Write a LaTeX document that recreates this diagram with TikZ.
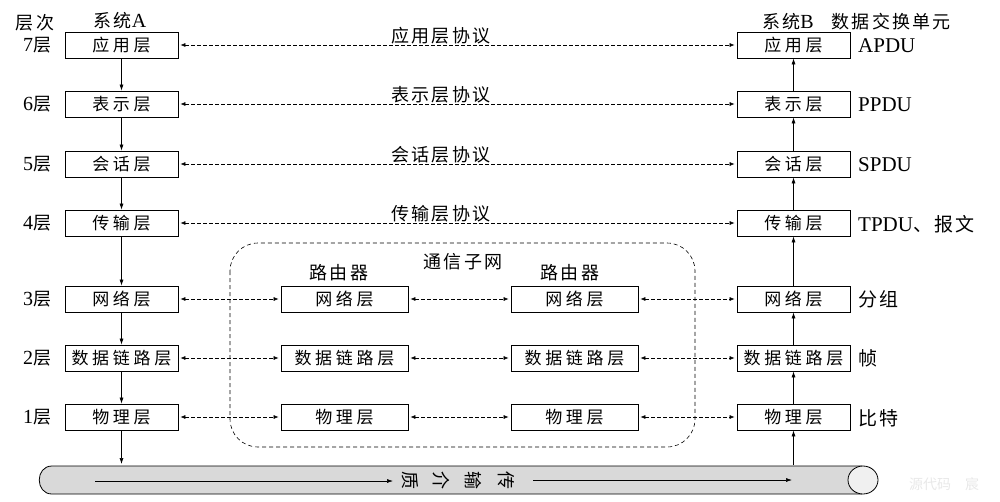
\documentclass[tikz,border=0pt]{standalone}
\usepackage{fontspec}
\setmainfont{Liberation Serif}
\newfontfamily\cjk{Noto Sans CJK SC}
\newfontfamily\cjkbox[LetterSpace=22]{Noto Sans CJK SC}
\newfontfamily\cjklbl[LetterSpace=12]{Noto Sans CJK SC}
\usetikzlibrary{arrows.meta}
\begin{document}
\begin{tikzpicture}[x=1pt,y=-1pt,
  layer/.style={draw, line width=0.8pt, minimum width=113pt, minimum height=26pt, inner sep=0pt, font=\cjkbox\fontsize{17}{17}\selectfont},
  rlayer/.style={layer, minimum width=127pt},
  proto/.style={dashed, dash pattern=on 3.5pt off 2.5pt, line width=0.6pt, {Latex[length=5pt,width=4pt]}-{Latex[length=5pt,width=4pt]}, shorten <=2pt, shorten >=2pt},
  solidarr/.style={line width=0.6pt, -{Latex[length=6pt,width=4pt]}},
  lbl/.style={font=\cjklbl\fontsize{18}{18}\selectfont, inner sep=0pt},
  pdu/.style={font=\fontsize{21}{21}\selectfont, anchor=west, inner sep=0pt}
]
\useasboundingbox (0,0) rectangle (1000,501);

% subnet
\draw[dashed, dash pattern=on 4pt off 3pt, line width=0.6pt, rounded corners=28pt] (230,243) rectangle (695,447);
\node[lbl] (subnet) at (463,262) {通信子网};
\node[lbl] (r1lab) at (339,273) {路由器};
\node[lbl] (r2lab) at (570,273) {路由器};

% pipe
\draw[fill=gray!30, line width=0.8pt] (862,466) -- (52,466) .. controls (35,466) and (35,494) .. (52,494) -- (862,494);
\draw[fill=gray!12, line width=0.8pt] (863,480) ellipse [x radius=15pt, y radius=14pt];
\coordinate (p1a) at (95,481);
\coordinate (p1b) at (393,481);
\coordinate (p2a) at (533,480);
\coordinate (p2b) at (792,480);
\draw[solidarr] (p1a) -- (p1b);
\draw[solidarr] (p2a) -- (p2b);
\foreach \ch/\xx in {传/506,输/473,介/441,质/410}
  \node[lbl, rotate=-90] (m\xx) at (\xx,480) {\ch};

% left column
\node[layer] (A7) at (121.5,45) {应用层};
\node[layer] (A6) at (121.5,104) {表示层};
\node[layer] (A5) at (121.5,164) {会话层};
\node[layer] (A4) at (121.5,223) {传输层};
\node[layer] (A3) at (121.5,299) {网络层};
\node[layer] (A2) at (121.5,358) {数据链路层};
\node[layer] (A1) at (121.5,417) {物理层};

% right column
\node[layer] (B7) at (793.5,45) {应用层};
\node[layer] (B6) at (793.5,104) {表示层};
\node[layer] (B5) at (793.5,164) {会话层};
\node[layer] (B4) at (793.5,223) {传输层};
\node[layer] (B3) at (793.5,299) {网络层};
\node[layer] (B2) at (793.5,358) {数据链路层};
\node[layer] (B1) at (793.5,417) {物理层};

% routers
\node[rlayer] (R3) at (344.5,299) {网络层};
\node[rlayer] (R2) at (344.5,358) {数据链路层};
\node[rlayer] (R1) at (344.5,417) {物理层};
\node[rlayer] (S3) at (574.5,299) {网络层};
\node[rlayer] (S2) at (574.5,358) {数据链路层};
\node[rlayer] (S1) at (574.5,417) {物理层};

% vertical arrows
\draw[solidarr] (A7) -- (A6);
\draw[solidarr] (A6) -- (A5);
\draw[solidarr] (A5) -- (A4);
\draw[solidarr] (A4) -- (A3);
\draw[solidarr] (A3) -- (A2);
\draw[solidarr] (A2) -- (A1);
\coordinate (pin) at (121.5,464);
\draw[solidarr] (A1) -- (pin);
\coordinate (pout) at (793.5,465);
\draw[solidarr] (pout) -- (B1);
\draw[solidarr] (B1) -- (B2);
\draw[solidarr] (B2) -- (B3);
\draw[solidarr] (B3) -- (B4);
\draw[solidarr] (B4) -- (B5);
\draw[solidarr] (B5) -- (B6);
\draw[solidarr] (B6) -- (B7);

% protocol arrows
\draw[proto] (A7) -- (B7);
\draw[proto] (A6) -- (B6);
\draw[proto] (A5) -- (B5);
\draw[proto] (A4) -- (B4);
\node[lbl, anchor=south] (p7) at (441,44) {应用层协议};
\node[lbl, anchor=south] (p6) at (441,103) {表示层协议};
\node[lbl, anchor=south] (p5) at (441,163) {会话层协议};
\node[lbl, anchor=south] (p4) at (441,222) {传输层协议};

\foreach \n in {3,2,1}{
  \draw[proto] (A\n) -- (R\n);
  \draw[proto] (R\n) -- (S\n);
  \draw[proto] (S\n) -- (B\n);
}

% level labels
\node[lbl] (lc) at (35,23) {层次};
\foreach \n/\yy in {7/45,6/104,5/164,4/223,3/299,2/358,1/417}
  \node[lbl] (L\n) at (37,\yy) {{\rmfamily\fontsize{20}{20}\selectfont \n}层};
\node[lbl] (sa) at (120,21) {系统{\rmfamily\fontsize{20}{20}\selectfont A}};
\node[lbl, anchor=west] (sb) at (762,22) {系统{\rmfamily\fontsize{20}{20}\selectfont B}\quad 数据交换单元};

% PDU labels
\node[pdu] (u7) at (858,46) {APDU};
\node[pdu] (u6) at (858,105) {PPDU};
\node[pdu] (u5) at (858,165) {SPDU};
\node[pdu] (u4) at (858,224) {TPDU{\cjklbl\fontsize{19}{19}\selectfont 、报文}};
\node[pdu] (u3) at (858,299) {\cjklbl\fontsize{19}{19}\selectfont 分组};
\node[pdu] (u2) at (858,358) {\cjklbl\fontsize{19}{19}\selectfont 帧};
\node[pdu] (u1) at (858,418) {\cjklbl\fontsize{19}{19}\selectfont 比特};

% watermark
\node[lbl, text=gray!18, font=\cjk\fontsize{14}{14}\selectfont] (wm) at (944,484) {源代码\quad 宸};
\end{tikzpicture}
\end{document}
